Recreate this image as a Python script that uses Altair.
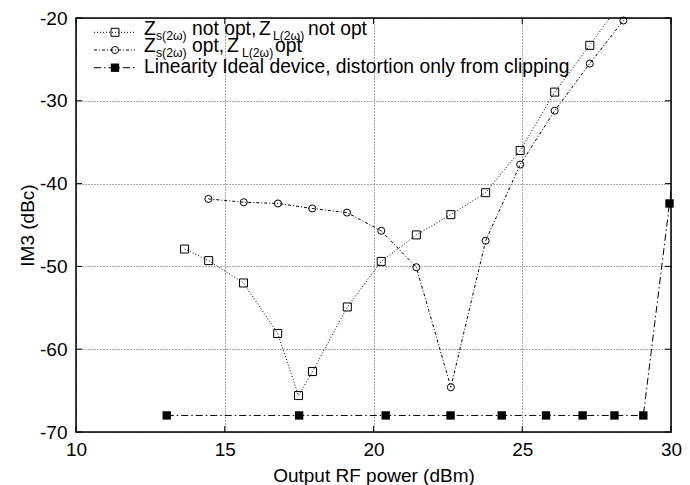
import altair as alt
import pandas as pd

# ---- data ----
s1_x = [13.65, 14.46, 15.63, 16.78, 17.48, 17.95, 19.12, 20.26, 21.44, 22.60, 23.77, 24.93, 26.09, 27.27, 28.44]
s1_y = [-47.9, -49.3, -52.0, -58.1, -65.6, -62.7, -54.9, -49.4, -46.2, -43.75, -41.1, -36.0, -28.95, -23.3, -17.5]

s2_x = [14.45, 15.64, 16.79, 17.94, 19.11, 20.26, 21.44, 22.60, 23.77, 24.93, 26.09, 27.27, 28.40, 29.57]
s2_y = [-41.85, -42.25, -42.4, -43.0, -43.5, -45.7, -50.1, -64.6, -46.9, -37.7, -31.2, -25.5, -20.3, -15.0]

s3_x = [13.05, 17.50, 20.41, 22.59, 24.31, 25.80, 27.03, 28.10, 29.07, 29.95, 30.90]
s3_y = [-68.0, -68.0, -68.0, -68.0, -68.0, -68.0, -68.0, -68.0, -68.0, -42.4, -15.0]

x_ticks = [10, 15, 20, 25, 30]
y_ticks = [-70, -60, -50, -40, -30, -20]

legend_main = ["Z", "not opt,", "Z", "not opt", "Z", "opt,", "Z", "opt",
               "Linearity Ideal device, distortion only from clipping"]
legend_sub = ["s(2ω)", "L(2ω)", "s(2ω)", "L(2ω)"]

# ---- layout (pixels inside the plot area) ----
W, H = 595, 414
FONT = "Liberation Sans"
main_pos = [(68, 17.3), (116, 17.3), (183, 17.3), (232, 17.3),
            (68, 34.3), (116, 34.3), (151, 34.3), (199, 34.3),
            (68, 55.0)]
sub_pos = [(80, 21.5), (197, 21.5), (80, 38.5), (166, 38.5)]
leg_rows = [14.3, 32.0, 49.7]

df1 = pd.DataFrame({"x": s1_x, "y": s1_y})
df2 = pd.DataFrame({"x": s2_x, "y": s2_y})
df3 = pd.DataFrame({"x": s3_x, "y": s3_y})

xs = alt.Scale(domain=[10, 30], nice=False, zero=False)
ys = alt.Scale(domain=[-70, -20], nice=False, zero=False)

xax = alt.Axis(values=x_ticks, title="Output RF power (dBm)", grid=True, gridDash=[1, 2],
               gridColor="#555", gridWidth=1, domain=False, ticks=False, tickSize=0,
               labelFont=FONT, labelFontSize=19, labelColor="black", labelPadding=8,
               labelExpr="toString(datum.value)",
               titleFont=FONT, titleFontSize=19, titleFontWeight="normal", titleColor="black",
               titleBaseline="alphabetic", titleY=49, labelFlush=False)
yax = alt.Axis(values=y_ticks, title="IM3 (dBc)", grid=True, gridDash=[1, 2],
               gridColor="#555", gridWidth=1, domain=False, ticks=False, tickSize=0,
               labelFont=FONT, labelFontSize=19, labelColor="black", labelPadding=9,
               labelExpr="toString(datum.value)",
               titleFont=FONT, titleFontSize=19, titleFontWeight="normal", titleColor="black",
               titleAngle=-90, titleBaseline="middle", titleX=-49, titleY=H / 2,
               labelFlush=False)

X = alt.X("x:Q", scale=xs, axis=xax)
Y = alt.Y("y:Q", scale=ys, axis=yax)

in_range = "datum.x <= 30.3 && datum.y <= -19.5"


def series(df, dash, shape, size, filled):
    line = alt.Chart(df).mark_line(clip=True, color="black", strokeWidth=1,
                                   strokeDash=dash).encode(x=X, y=Y)
    pts = alt.Chart(df).transform_filter(in_range).mark_point(
        shape=shape, size=size, filled=filled, color="black",
        strokeWidth=1, opacity=1).encode(x=X, y=Y)
    return [line, pts]


dash1 = [1, 2]
dash2 = [3, 2, 1, 2]
dash3 = [7, 3, 1.5, 3]

layers = []
layers += series(df1, dash1, "square", 64, False)
layers += series(df2, dash2, "circle", 50, False)
layers += series(df3, dash3, "square", 70, True)

# inward ticks on all four sides
tx = pd.DataFrame({"x": x_ticks})
ty = pd.DataFrame({"y": y_ticks})
layers.append(alt.Chart(tx).mark_rule(color="black").encode(x=X, y=alt.value(H), y2=alt.value(H - 6)))
layers.append(alt.Chart(tx).mark_rule(color="black").encode(x=X, y=alt.value(0), y2=alt.value(6)))
layers.append(alt.Chart(ty).mark_rule(color="black").encode(y=Y, x=alt.value(0), x2=alt.value(6)))
layers.append(alt.Chart(ty).mark_rule(color="black").encode(y=Y, x=alt.value(W), x2=alt.value(W - 6)))

# frame
one = pd.DataFrame({"a": [0]})
layers.append(alt.Chart(one).mark_rect(fill=None, stroke="black", strokeWidth=1.5).encode(
    x=alt.value(0), x2=alt.value(W), y=alt.value(0), y2=alt.value(H)))

# legend
for row, dash, shape, size, filled in zip(leg_rows, [dash1, dash2, dash3],
                                          ["square", "circle", "square"],
                                          [64, 50, 70], [False, False, True]):
    layers.append(alt.Chart(one).mark_rule(color="black", strokeWidth=1, strokeDash=dash).encode(
        x=alt.value(18), x2=alt.value(59), y=alt.value(row)))
    layers.append(alt.Chart(one).mark_point(
        shape=shape, size=size, filled=filled, color="black", opacity=1, strokeWidth=1).encode(
        x=alt.value(39), y=alt.value(row)))

for t, (px, py) in zip(legend_main, main_pos):
    layers.append(alt.Chart(one).mark_text(align="left", baseline="alphabetic", font=FONT,
                                           fontSize=19.3, color="black").encode(
        x=alt.value(px), y=alt.value(py), text=alt.value(t)))
for t, (px, py) in zip(legend_sub, sub_pos):
    layers.append(alt.Chart(one).mark_text(align="left", baseline="alphabetic", font=FONT,
                                           fontSize=12.2, color="black").encode(
        x=alt.value(px), y=alt.value(py), text=alt.value(t)))

chart = alt.layer(*layers).properties(
    width=W, height=H,
    padding={"left": 68, "top": 10, "right": 11, "bottom": 53},
    autosize=alt.AutoSizeParams(type="none"),
).configure_view(stroke="black", strokeWidth=1.5).configure(background="white")

chart.save("out.html", embed_options={"renderer": "svg", "actions": False})
